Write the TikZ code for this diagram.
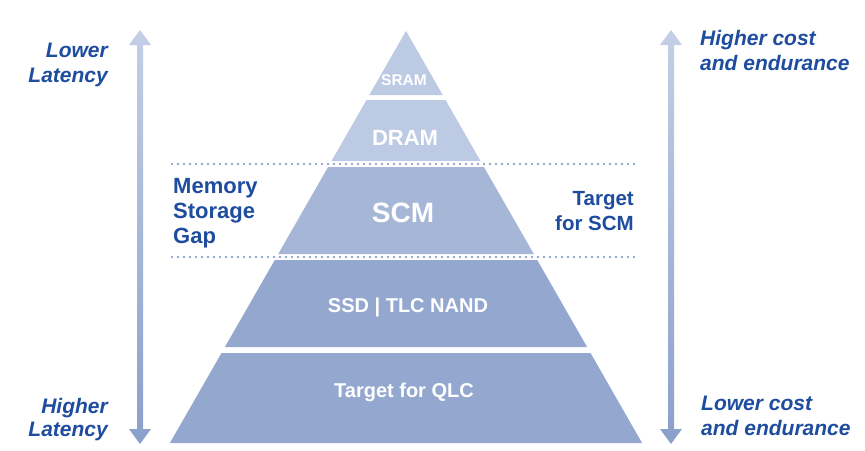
\documentclass[tikz,border=0pt]{standalone}
\usepackage{fontspec}
\setmainfont{Liberation Sans}
\definecolor{txtblue}{RGB}{30,76,158}
\definecolor{toplayer}{RGB}{189,202,227}
\definecolor{midlayer}{RGB}{165,182,215}
\definecolor{lowlayer}{RGB}{148,168,207}
\definecolor{dotblue}{RGB}{112,138,192}
\definecolor{arrtop}{RGB}{196,207,230}
\definecolor{arrbot}{RGB}{138,159,203}
\begin{document}
\begin{tikzpicture}[x=1pt,y=-1pt,
  layerlbl/.style={text=white,font=\bfseries,inner sep=0pt,anchor=base},
  sidelbl/.style={text=txtblue,font=\fontsize{21}{25}\selectfont\bfseries\itshape,inner sep=0pt},
  gaplbl/.style={text=txtblue,font=\fontsize{22}{25}\selectfont\bfseries,inner sep=0pt},
  dotline/.style={draw=dotblue,line width=2.1pt,dash pattern=on 0pt off 6pt,line cap=round},
  updown/.style={top color=arrtop,bottom color=arrbot,draw=none}]
\useasboundingbox (0,0) rectangle (865,450);
\fill[white] (0,0) rectangle (865,450);
% pyramid layers
\fill[toplayer] (406,31) -- (442.7,95) -- (369.3,95) -- cycle;
\fill[toplayer] (366.5,100) -- (445.5,100) -- (480.5,161) -- (331.5,161) -- cycle;
\fill[midlayer] (328.1,167) -- (483.9,167) -- (533.8,254) -- (278.2,254) -- cycle;
\fill[lowlayer] (274.8,260) -- (537.2,260) -- (587.1,347) -- (224.9,347) -- cycle;
\fill[lowlayer] (221.5,353) -- (590.5,353) -- (642.1,443) -- (169.9,443) -- cycle;
% dotted boundaries
\coordinate (d1a) at (172,164); \coordinate (d1b) at (637,164);
\coordinate (d2a) at (172,257); \coordinate (d2b) at (637,257);
\draw[dotline] (d1a) -- (d1b);
\draw[dotline] (d2a) -- (d2b);
% side arrows
\shade[updown] (140,30) -- (151,45) -- (143,45) -- (143,429) -- (151,429) -- (140,444)
  -- (129,429) -- (137,429) -- (137,45) -- (129,45) -- cycle;
\shade[updown] (671,30) -- (682,45) -- (674,45) -- (674,429) -- (682,429) -- (671,444)
  -- (660,429) -- (668,429) -- (668,45) -- (660,45) -- cycle;
% layer labels
\node[layerlbl,font=\fontsize{15.5}{18}\selectfont\bfseries] (sram) at (404,85) {SRAM};
\node[layerlbl,font=\fontsize{22}{26}\selectfont\bfseries] (dram) at (405,145) {DRAM};
\node[layerlbl,font=\fontsize{28}{32}\selectfont\bfseries] (scm) at (403,222) {SCM};
\node[layerlbl,font=\fontsize{20}{24}\selectfont\bfseries] (ssd) at (408,312) {SSD | TLC NAND};
\node[layerlbl,font=\fontsize{20}{24}\selectfont\bfseries] (qlc) at (404,397) {Target for QLC};
% left labels
\node[sidelbl,anchor=base east] (lowA) at (108,57) {Lower};
\node[sidelbl,anchor=base east] (lowB) at (108,82) {Latency};
\node[sidelbl,anchor=base east] (highA) at (108,413) {Higher};
\node[sidelbl,anchor=base east] (highB) at (108,436) {Latency};
% right labels
\node[sidelbl,anchor=base west] (costA) at (700,45) {Higher cost};
\node[sidelbl,anchor=base west] (costB) at (700,70) {and endurance};
\node[sidelbl,anchor=base west] (lcostA) at (701,410) {Lower cost};
\node[sidelbl,anchor=base west] (lcostB) at (701,435) {and endurance};
% gap labels
\node[gaplbl,anchor=base west] (memA) at (173,193) {Memory};
\node[gaplbl,anchor=base west] (memB) at (173,218) {Storage};
\node[gaplbl,anchor=base west] (memC) at (173,243) {Gap};
\node[gaplbl,font=\fontsize{20.5}{25}\selectfont\bfseries,anchor=base east] (tgtA) at (634,205) {Target};
\node[gaplbl,font=\fontsize{20.5}{25}\selectfont\bfseries,anchor=base east] (tgtB) at (634,230) {for SCM};
\end{tikzpicture}
\end{document}
